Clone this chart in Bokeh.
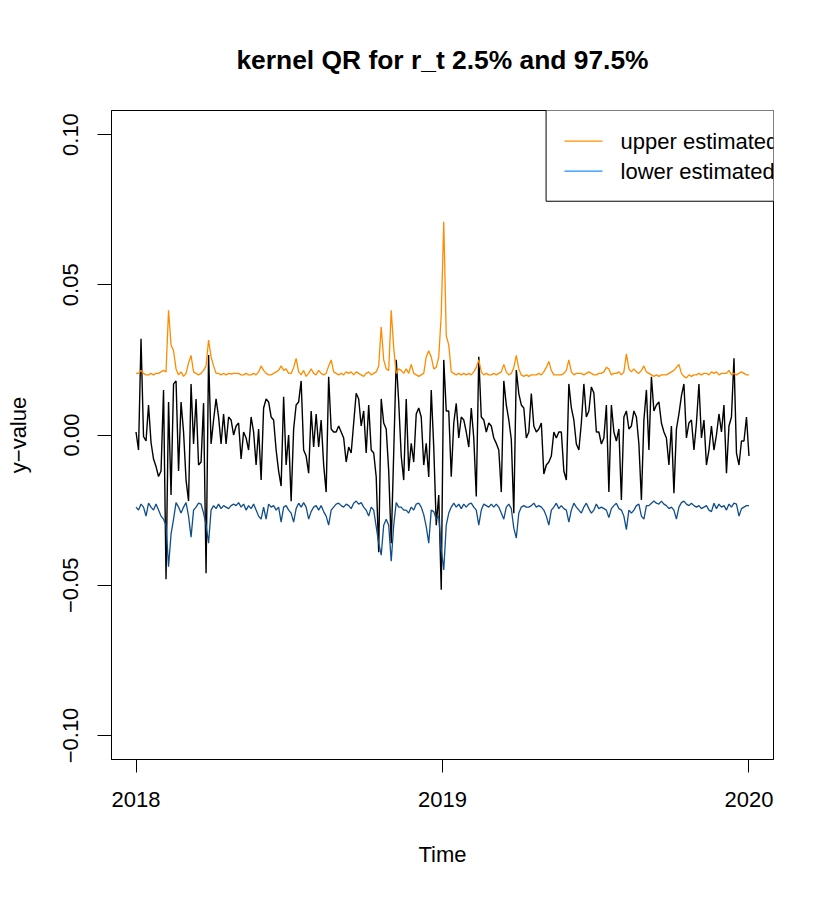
import numpy as np
from bokeh.plotting import figure
from bokeh.models import FixedTicker, Range1d
from bokeh.core.properties import value
from bokeh.embed import file_html
from bokeh.resources import INLINE

# values, in units of 0.001
SCALE = 1e-3

r_t_milli = [
    1, -5, 32, -0.5, -2, 10, -2.5, -8, -10.5, -13.8,
    -12, 15, -48, 11, -20, 17, 18, -12, 11, 1,
    -15, -22, 17, -3, 12, -10, -9, 10.6, -46, 26.6,
    -3, 5, 12, 6, -3, 7, -3, 6, 5, 0,
    3, 4,
    -8, 1, -1, -5, 6, 1, -10, 2,
    -15, 9, 12, 11, 6, 5, -5, -12, -17, 12.7,
    -10, 0, -22, 2, 10, 11, 18, -5, -7, -12.7,
    8, -4, 7, -4, 5, -10, -19, 19.4, 2, 1,
    1, 3, 1, -1, -9, -4, -6, 4, 13.9, 12,
    3, 8, -6, 10, -5, -6, -13.9, -39, 12, 4,
    2, -12, -36, -6, 25, 11, -7, -15, 12, -12,
    -2.8, -9, 7, 9, 6, -10, -2.8, -14, 15, -4,
    -30, -20, -51.5, 25, 8, 8, -13.9, 4, 10.5, -1,
    6, 5, 1, -4, 9, -1, -20.5, 26, 6, 5,
    1, 4, 3, -1, -2.8, -5,
    -19, 18, 10, 5,
    -1.5, -26, 21.6, 13.8, 10, 9, -1, 1, 13.8, 3,
    1, 2, 4, -13, -10, -9, -7, 1, -1, 1,
    1, -12, -15, 17, 9, 5, -3, -5, 4, 17,
    6, 8, 16, 14, 1, 1, -3, -1, 10, -19,
    10, 1, -2, 2, -21.6, 6, 8, 2,
    3, 8,
    6, -3, -21.6, 5, 15, -5, 19.4, 8, 10, 11,
    4, 1, -1, -10, 3, -19.4, 2, 7, 13, 17,
    -1, 4, 5, -5, 4, 17, -1, 5, -10, -5,
    3, -5, 0, 7, 1, 10, -12.7, 3, 6, 25.5,
    -6, -10, -2, -2, 6, -7,
]

upper_milli = [
    20.5, 20.5, 21.5, 20.5, 20, 20, 20.5, 20, 20.5, 20.5,
    21, 21.5, 21, 41.5, 30, 28, 22, 20, 21, 19.5,
    20.5, 24, 26.5, 21, 20.5, 20, 20.5, 21.5, 23, 31.6,
    26, 23, 20.5, 20.5, 20, 20.5, 20, 20.5, 20.3, 20.5,
    20.5, 20.5,
    20, 20, 20.5, 20, 20, 20.5, 20, 21,
    23, 21.5, 20.5, 20, 20, 20.5, 21, 21.5, 23, 21.5,
    22, 20.5, 20.5, 22.5, 25.5, 21, 20, 21.5, 19.5, 20.5,
    22, 20.5, 20, 21.5, 20.5, 20, 20.5, 23, 25, 21,
    20.5, 20, 20.5, 20, 21, 20.5, 21, 20, 21, 20.5,
    20, 19.5, 20.5, 21, 20, 20.5, 21, 23, 36, 25,
    22, 21.5, 41.5, 29, 20.5, 22, 21.5, 20.5, 22, 20.5,
    23.5, 20.5, 20, 19.5, 20, 20.5, 26, 28, 26, 22,
    22.5, 26, 40, 71, 33, 30, 21, 20.5, 20, 20.5,
    20, 20.5, 20, 20.5, 20, 21, 22.5, 25, 21, 20,
    20.5, 20, 20, 20.5, 20, 20.5,
    21, 23.5, 21, 20,
    20.5, 22.5, 26.5, 22, 20, 19.5, 20, 19.5, 20, 20,
    20, 20.5, 20, 21, 22.5, 24.5, 21.5, 20, 20, 20,
    20, 20.5, 21.5, 25, 21, 20, 20.5, 20.5, 20.5, 20,
    20.5, 21, 20.5, 20, 20, 20.5, 20.5, 21, 22.5, 22,
    20, 20.5, 20.5, 21, 20, 21, 27, 22,
    21, 22,
    21, 20.5, 21.5, 23, 21, 20.5, 20, 19.5, 20, 19.5,
    20, 20, 20, 20.5, 21, 21.5, 22.5, 23.5, 20.5, 19.5,
    19, 20, 19.5, 20, 20, 20.5, 20, 20.5, 20.5, 20,
    21, 20.5, 21, 20, 20.5, 20.5, 20.5, 21.5, 20, 20.5,
    20, 20.5, 21, 20.5, 20, 20,
]

lower_milli = [
    -24, -25, -23, -24, -27, -22.7, -24, -25, -23, -25,
    -27, -28, -30, -43.8, -33, -28, -22.5, -24, -26, -24,
    -22.5, -27, -34, -25, -24, -22.7, -23, -26, -30, -36,
    -25, -23.5, -24.5, -23, -24.5, -23.5, -24, -24.5, -23.5, -23,
    -23.5, -22.5,
    -24, -23, -25, -23.5, -24.5, -23, -25, -27,
    -28, -24, -28, -23, -24, -23.5, -25, -24, -29, -24,
    -23.5, -25, -26, -29, -24.5, -22.7, -24, -22.5, -24, -28,
    -25.5, -24, -23.5, -25, -23.5, -25.5, -27, -30, -25, -24,
    -23, -22.7, -23.5, -24, -23, -23.5, -24.5, -22.7, -22, -23,
    -22.5, -24, -25, -27, -24, -25, -30.5, -36, -40, -30,
    -28, -30, -42, -30, -22.5, -24, -24, -25, -25, -26,
    -24, -25, -23, -22.7, -24, -26.5, -30.5, -36, -25, -25.5,
    -28, -27, -38, -44.9, -30, -26, -24, -22.7, -24, -23,
    -24.5, -23, -24, -23, -22.7, -24, -25, -30, -25, -23,
    -23.5, -24, -23, -24, -23, -24,
    -26, -28, -24, -23,
    -24.5, -31, -34.3, -26, -24, -23.5, -24, -24, -23.5, -22.7,
    -24, -23.5, -24, -25, -27, -30, -25, -24, -22.7, -24.5,
    -23.5, -24.5, -25, -29, -25, -22.7, -24, -25, -26, -24,
    -22.7, -24.5, -26, -25, -23, -24.5, -24, -24.5, -25, -27.5,
    -24.5, -23.5, -22.7, -24.5, -25, -27, -31.5, -25,
    -26, -25,
    -23.5, -23, -27, -28, -23.5, -23.5, -22.7, -22, -22.7, -23,
    -22, -23, -23.5, -24.5, -24, -25, -28, -24, -22.5, -22,
    -23, -23.5, -22.7, -23.5, -24, -23.5, -24.5, -24, -23.5, -25,
    -25.5, -22.7, -24.5, -23, -24, -23.5, -25, -23, -24, -22.7,
    -23, -27, -24.5, -24, -23.5, -23.5,
]

year_ticks = [2018, 2019, 2020]
y_ticks = [-0.10, -0.05, 0.0, 0.05, 0.10]
y_tick_labels = ["\u22120.10", "\u22120.05", "0.00", "0.05", "0.10"]
legend_labels = ["upper estimated", "lower estimated"]

n = len(r_t_milli)
time = np.linspace(2018.0, 2020.0, n)
r_t = np.array(r_t_milli) * SCALE
upper = np.array(upper_milli) * SCALE
lower = np.array(lower_milli) * SCALE

FONT = "Liberation Sans"
ORANGE = "#FF8C00"
DARKBLUE = "#104E8B"
LIGHTBLUE = "#1E90FF"

p = figure(width=814, height=882,
           x_range=Range1d(2017.92, 2020.08), y_range=Range1d(-0.108, 0.108),
           output_backend="svg", toolbar_location=None,
           min_border_left=111, min_border_right=41,
           min_border_top=110, min_border_bottom=123)

p.title.text = "kernel QR for r_t 2.5% and 97.5%"
p.title.align = "center"
p.title.text_font = FONT
p.title.text_font_size = "26.4px"
p.title.text_font_style = "bold"
p.title.text_color = "black"
p.title.standoff = 72

p.grid.visible = False
p.outline_line_color = "black"
p.outline_line_width = 1
p.background_fill_color = "white"
p.border_fill_color = "white"

for ax in (p.xaxis[0], p.yaxis[0]):
    ax.axis_line_color = "black"
    ax.major_tick_line_color = "black"
    ax.major_tick_in = 0
    ax.major_tick_out = 13
    ax.minor_tick_line_color = None
    ax.major_label_text_font = FONT
    ax.major_label_text_font_size = "22px"
    ax.major_label_text_color = "black"
    ax.axis_label_text_font = FONT
    ax.axis_label_text_font_size = "22px"
    ax.axis_label_text_font_style = "normal"
    ax.axis_label_text_color = "black"

p.xaxis.ticker = FixedTicker(ticks=year_ticks)
p.xaxis.major_label_overrides = {y: str(y) for y in year_ticks}
p.xaxis.axis_label = "Time"
p.xaxis.major_label_standoff = 19
p.xaxis.axis_label_standoff = 32

p.yaxis.ticker = FixedTicker(ticks=y_ticks)
p.yaxis.major_label_overrides = dict(zip(y_ticks, y_tick_labels))
p.yaxis.major_label_orientation = "vertical"
p.yaxis.major_tick_out = 14
p.yaxis.axis_label = "y\u2212value"
p.yaxis.major_label_standoff = 19
p.yaxis.axis_label_standoff = 30

p.line(time, r_t, line_color="black", line_width=1.4)
p.line(time, upper, line_color=ORANGE, line_width=1.3)
p.line(time, lower, line_color=DARKBLUE, line_width=1.3)

# legend drawn inside the frame so that it is clipped at the right edge like the original
lg_left, lg_right, lg_top, lg_bottom = 2019.338, 2020.3, 0.13, 0.0778
p.quad(left=[lg_left], right=[lg_right], top=[lg_top], bottom=[lg_bottom],
       fill_color="white", line_color="black", line_width=1)
lg_x0, lg_x1, lg_tx = 2019.398, 2019.522, 2019.581
lg_ys = [0.0978, 0.0878]
p.segment(x0=[lg_x0, lg_x0], x1=[lg_x1, lg_x1], y0=lg_ys, y1=lg_ys,
          line_color=[ORANGE, LIGHTBLUE], line_width=1.3)
p.text(x=[lg_tx, lg_tx], y=lg_ys, text=legend_labels,
       text_font=value(FONT), text_font_size="22px", text_color="black",
       text_baseline="middle", text_align="left")

open("out.html", "w").write(file_html(p, INLINE))
